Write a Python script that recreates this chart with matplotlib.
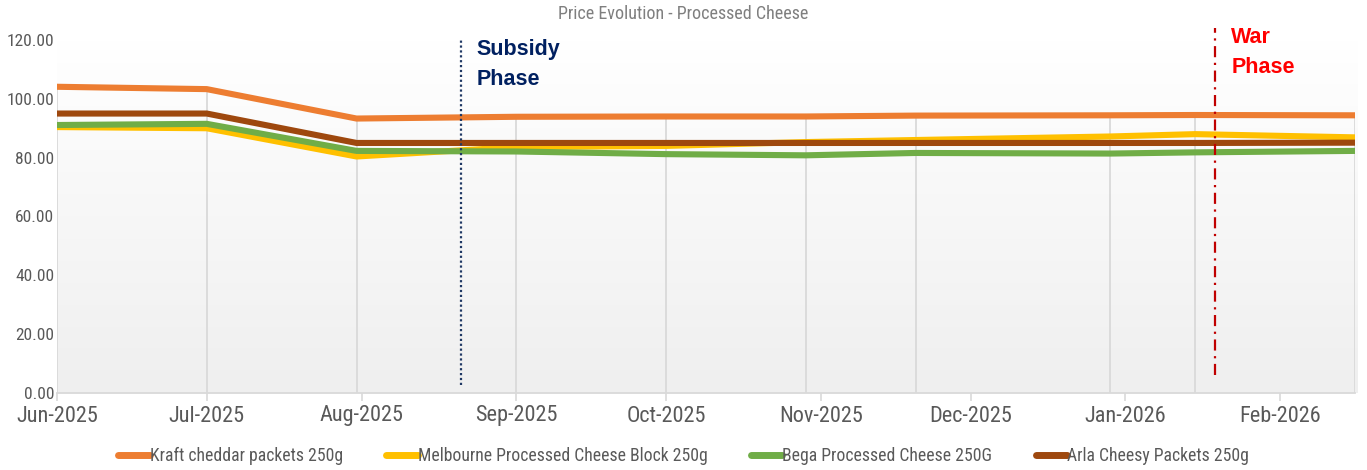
import matplotlib
matplotlib.use("Agg")
import matplotlib.pyplot as plt
import matplotlib.dates as mdates
from matplotlib.colors import LinearSegmentedColormap
import numpy as np
import pandas as pd

# ---------------- data ----------------
dates = pd.to_datetime([
    "2025-06-01", "2025-07-01", "2025-07-31", "2025-09-01", "2025-10-01",
    "2025-10-29", "2025-11-20", "2025-12-29", "2026-01-15", "2026-02-16",
])
kraft = [104.1, 103.3, 93.3, 93.9, 94.0, 94.0, 94.3, 94.4, 94.5, 94.4]
melbourne = [90.4, 90.0, 80.4, 83.6, 84.0, 85.3, 86.0, 87.2, 88.0, 86.9]
bega = [91.1, 91.5, 82.3, 82.1, 81.2, 80.8, 81.6, 81.4, 81.8, 82.3]
arla = [95.0, 95.0, 85.0, 85.0, 85.0, 85.0, 85.0, 85.0, 85.0, 85.1]

series_names = [
    "Kraft cheddar packets 250g",
    "Melbourne Processed Cheese Block 250g",
    "Bega Processed Cheese 250G",
    "Arla Cheesy Packets 250g",
]
series_values = [kraft, melbourne, bega, arla]
series_colors = ["#ED7D31", "#FFC000", "#70AD47", "#9E480E"]

month_ticks = pd.date_range("2025-06-01", "2026-02-01", freq="MS")
y_ticks = [0, 20, 40, 60, 80, 100, 120]

subsidy_date = pd.Timestamp("2025-08-21")
war_date = pd.Timestamp("2026-01-19")
title = "Price Evolution - Processed Cheese"

# ---------------- style ----------------
narrow = ["Roboto Condensed", "Archivo Narrow", "DejaVu Sans"]
plt.rcParams["font.family"] = narrow
label_color = "#595959"

fig = plt.figure(figsize=(13.67, 4.70), dpi=100)
ax = fig.add_axes([57 / 1367, 77 / 470, (1355 - 57) / 1367, (393 - 40) / 470])

xmin = mdates.date2num(dates[0])
xmax = mdates.date2num(dates[-1])
ax.set_xlim(xmin, xmax)
ax.set_ylim(0, 120)

# gradient background
grad = np.linspace(0, 1, 256).reshape(-1, 1)
cmap = LinearSegmentedColormap.from_list("bg", ["#ffffff", "#efefef"])
ax.imshow(grad, cmap=cmap, extent=[xmin, xmax + 0.6, 0, 120], aspect="auto",
          zorder=0, origin="upper", clip_on=False)

# drop lines
xs = mdates.date2num(dates)
tops = np.max(np.array(series_values), axis=0)
ax.vlines(xs, 0, tops, colors="#d9d9d9", linewidth=1.3, zorder=1)

# series lines
for name, vals, col in zip(series_names, series_values, series_colors):
    ax.plot(xs, vals, color=col, linewidth=4.4, solid_capstyle="round",
            solid_joinstyle="round", label=name, zorder=3)

# phase lines
ax.plot([mdates.date2num(subsidy_date)] * 2, [2.7, 120], color="#1F3864",
        linewidth=1.6, linestyle=(0, (1, 1.2)), zorder=4, clip_on=False)
ax.plot([mdates.date2num(war_date)] * 2, [6.0, 124.2], color="#C00000",
        linewidth=1.6, linestyle=(0, (5, 2.5, 1, 2.5)), zorder=4, clip_on=False)

bold_family = ["Liberation Sans", "DejaVu Sans"]
ax.text(mdates.date2num(subsidy_date) + 3.0, 120.3, "Subsidy\nPhase",
        color="#002060", fontsize=15.5, fontweight="bold",
        family=bold_family, va="top", ha="left",
        linespacing=1.55, clip_on=False)
ax.text(mdates.date2num(war_date) + 3.2, 124.5, "War\nPhase",
        color="#FF0000", fontsize=15.5, fontweight="bold",
        family=bold_family, va="top", ha="left",
        linespacing=1.55, clip_on=False)

# axes styling
for s in ["top", "right", "left"]:
    ax.spines[s].set_visible(False)
ax.spines["bottom"].set_color("#d9d9d9")
ax.spines["bottom"].set_linewidth(1.3)
ax.spines["bottom"].set_zorder(2)

ax.set_yticks(y_ticks)
ax.set_yticklabels([f"{v:.2f}" for v in y_ticks])
ax.tick_params(axis="y", length=0, pad=2, labelsize=12.5, labelcolor=label_color)

ax.set_xticks(mdates.date2num(month_ticks))
ax.set_xticklabels([d.strftime("%b-%Y") for d in month_ticks])
ax.tick_params(axis="x", length=6, width=1.2, color="#d9d9d9", pad=3,
               labelsize=16, labelcolor=label_color)

fig.text(0.5, 1 - 14 / 470, title, ha="center", va="center", fontsize=13,
         color="#7f7f7f")

leg = fig.legend(loc="center", bbox_to_anchor=(0.5, 1 - 456 / 470), ncol=4,
                 frameon=False, fontsize=12.7, handlelength=1.8,
                 handletextpad=0.0, columnspacing=2.45)
for t in leg.get_texts():
    t.set_color(label_color)
for h in leg.legend_handles:
    h.set_linewidth(5)

fig.savefig("out.png", dpi=100, facecolor="white")
